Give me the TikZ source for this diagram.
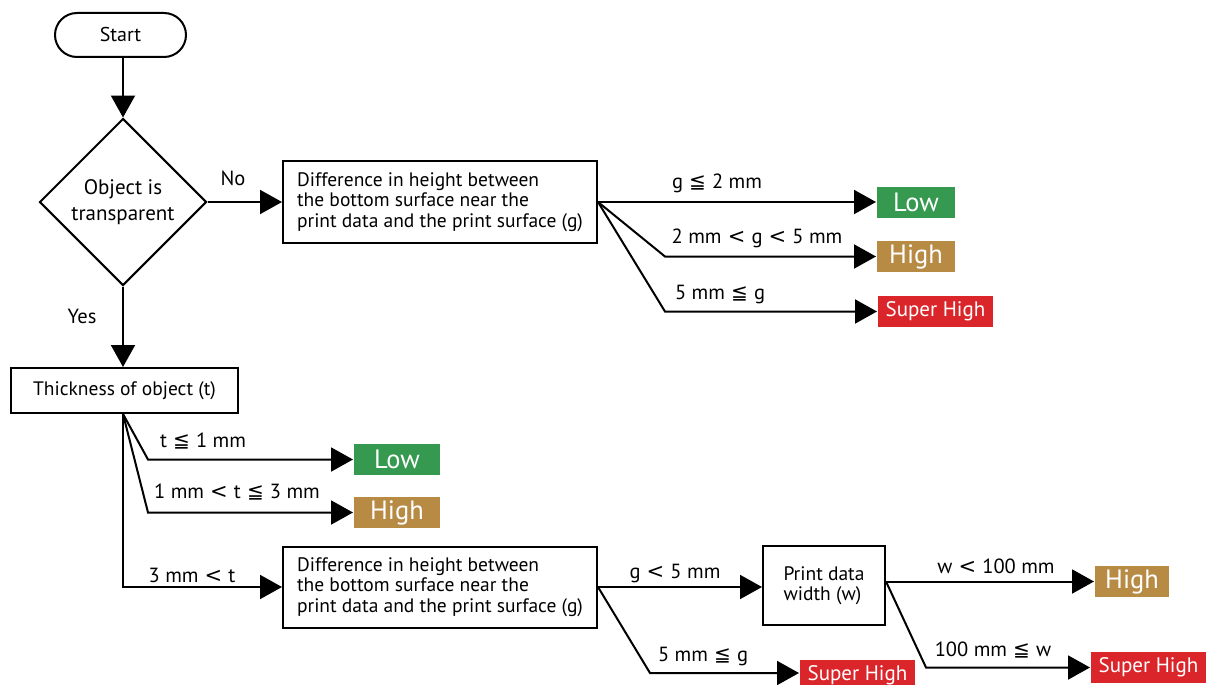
\documentclass[tikz,border=0pt]{standalone}
\usepackage{fontspec}
\setmainfont{PT Sans}
\newfontfamily\symfont{DejaVu Sans}
\usepackage{tikz}
\usetikzlibrary{arrows.meta, shapes.geometric}
\definecolor{lowgreen}{RGB}{53,153,80}
\definecolor{highbrown}{RGB}{184,139,69}
\definecolor{superred}{RGB}{218,38,43}
\newcommand{\leqsym}{\hspace{0.3em}{\symfont\fontsize{20}{20}\selectfont ≦}\hspace{0.3em}}
\newcommand{\ltsym}{\hspace{0.3em}{\symfont\fontsize{21}{21}\selectfont <}\hspace{0.3em}}

\begin{document}
\begin{tikzpicture}[x=1pt, y=-1pt, line width=2pt, >={Triangle[length=22pt,width=24pt]},
    font=\fontsize{19.5}{20.5}\selectfont,
    terminal/.style={draw, rounded corners=22pt, minimum width=131pt, minimum height=44pt, inner sep=0pt, font=\fontsize{20}{20}\selectfont},
    decision/.style={draw, diamond, aspect=1, minimum width=167pt, minimum height=167pt, inner sep=0pt, align=center, font=\fontsize{21}{22}\selectfont},
    process/.style={draw, rectangle, align=left, inner sep=0pt},
    result/.style={text=white, inner sep=0pt, minimum height=31pt, font=\fontsize{26.5}{26}\selectfont},
    superres/.style={result, fill=superred, minimum width=115pt, font=\fontsize{21}{21}\selectfont},
    cond/.style={inner sep=1pt, font=\fontsize{20.5}{21}\selectfont}]
  \useasboundingbox (0,0) rectangle (1218,685);
  % start / transparent
  \node[terminal] (start) at (120.5,35) {Start};
  \node[decision] (transp) at (123,202) {Object is\\[4pt]transparent};
  \draw[->] (transp.north |- start.south) -- (transp.north);
  \node[cond] (no) at (233,178) {No};
  \node[cond] (yes) at (82,316) {Yes};
  % upper branch
  \node[process, minimum width=314pt, minimum height=82pt] (diffA) at (440,202)
    {Difference in height between\\ the bottom surface near the\\print data and the print surface (g)};
  \draw[->] (transp.east) -- (diffA.west);
  \node[result, fill=lowgreen, minimum width=78pt] (lowA) at (916,202) {Low};
  \node[result, fill=highbrown, minimum width=78pt] (highA) at (916,256.5) {High};
  \node[superres] (supA) at (935.5,311.5) {Super High};
  \coordinate (bendA1) at (665,256.5);
  \coordinate (bendA2) at (665,311.5);
  \draw[->] (diffA.east) -- (lowA.west);
  \draw[->] (diffA.east) -- (bendA1) -- (highA.west);
  \draw[->] (diffA.east) -- (bendA2) -- (supA.west);
  \node[cond] (gA1) at (717,183) {g\leqsym 2 mm};
  \node[cond] (gA2) at (757,238) {2 mm\ltsym g\ltsym 5 mm};
  \node[cond] (gA3) at (720,294) {5 mm\leqsym g};
  % thickness
  \node[process, minimum width=227pt, minimum height=45pt] (thick) at (124.5,390.5) {Thickness of object (t)};
  \draw[->] (transp.south) -- (transp.south |- thick.north);
  \coordinate (tk) at (transp.south |- thick.south);
  \node[result, fill=lowgreen, minimum width=86pt] (lowB) at (397,459.5) {Low};
  \node[result, fill=highbrown, minimum width=86pt] (highB) at (397,512.5) {High};
  \coordinate (bendB1) at (148,459.5);
  \coordinate (bendB2) at (148,512.5);
  \draw[->] (tk) -- (bendB1) -- (lowB.west);
  \draw[->] (tk) -- (bendB2) -- (highB.west);
  \node[cond] (tB1) at (203,441) {t\leqsym 1 mm};
  \node[cond] (tB2) at (237,492) {1 mm\ltsym t\leqsym 3 mm};
  \node[cond] (tB3) at (192,575) {3 mm\ltsym t};
  % lower branch
  \node[process, minimum width=314pt, minimum height=81pt] (diffB) at (440,587)
    {Difference in height between\\ the bottom surface near the\\print data and the print surface (g)};
  \draw[->] (tk) -- (tk |- diffB.west) -- (diffB.west);
  \node[process, minimum width=122pt, minimum height=79pt] (pwidth) at (824,585.5) {Print data\\width (w)};
  \node[superres] (supB) at (857.5,675) {Super High};
  \coordinate (bendC) at (650,673);
  \draw[->] (diffB.east) -- (diffB.east -| pwidth.west);
  \draw[->] (diffB.east) -- (bendC) -- (supB.west |- bendC);
  \node[cond] (gC1) at (675,573) {g\ltsym 5 mm};
  \node[cond] (gC2) at (703,656) {5 mm\leqsym g};
  % print width
  \node[result, fill=highbrown, minimum width=74pt] (highD) at (1132,581.5) {High};
  \node[superres] (supD) at (1148.5,667.5) {Super High};
  \coordinate (pw) at (pwidth.east |- highD.west);
  \coordinate (bendD) at (926,667.5);
  \draw[->] (pw) -- (highD.west);
  \draw[->] (pw) -- (bendD) -- (supD.west);
  \node[cond] (wD1) at (996,566) {w\ltsym 100 mm};
  \node[cond] (wD2) at (993,650) {100 mm\leqsym w};
\end{tikzpicture}
\end{document}
